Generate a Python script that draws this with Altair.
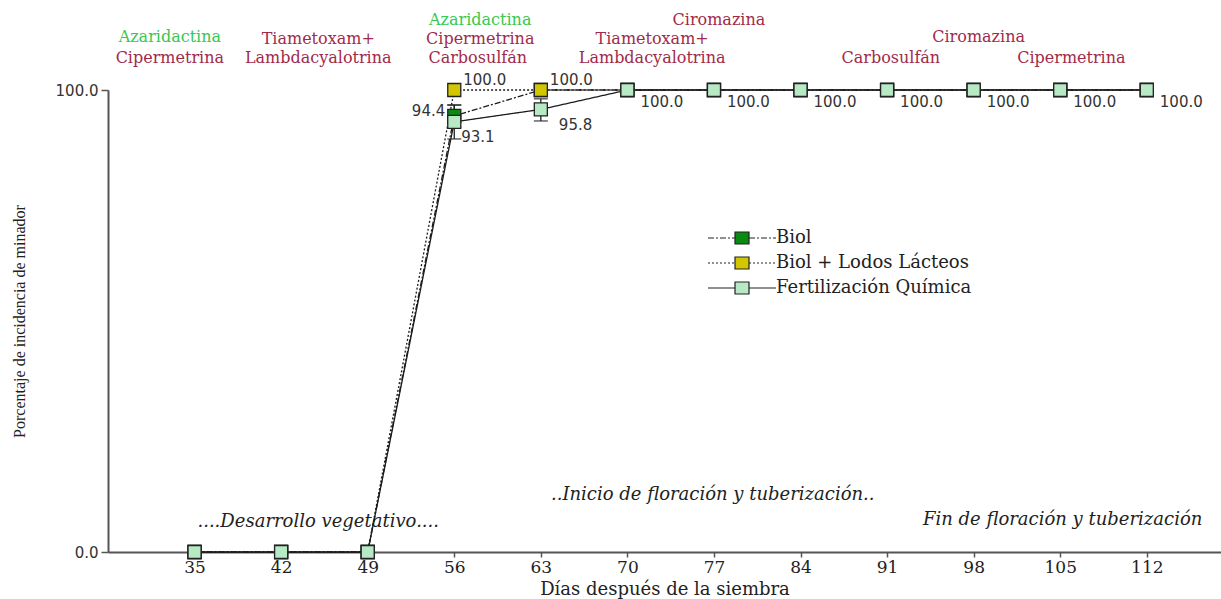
import altair as alt
import pandas as pd

# ---------------- data ----------------
days = [35, 42, 49, 56, 63, 70, 77, 84, 91, 98, 105, 112]
series_names = ["Biol", "Biol + Lodos Lácteos", "Fertilización Química"]
biol = [0, 0, 0, 94.4, 100, 100, 100, 100, 100, 100, 100, 100]
biol_lodos = [0, 0, 0, 100, 100, 100, 100, 100, 100, 100, 100, 100]
fert_quim = [0, 0, 0, 93.1, 95.8, 100, 100, 100, 100, 100, 100, 100]

# error bars
err_day = [56, 56, 63]
err_lo = [92.0, 89.4, 93.3]
err_hi = [96.7, 96.8, 98.1]

# product application annotations (day, level in % units, type)
ann_text = ["Azaridactina", "Cipermetrina", "Tiametoxam+", "Lambdacyalotrina",
            "Azaridactina", "Cipermetrina", "Carbosulfán",
            "Ciromazina", "Tiametoxam+", "Lambdacyalotrina",
            "Carbosulfán", "Ciromazina", "Cipermetrina"]
ann_day = [33.0, 33.0, 45.0, 45.0,
           58.1, 58.1, 57.9,
           77.4, 72.0, 72.0,
           91.3, 98.4, 105.9]
ann_level = [111.5, 106.9, 111.0, 106.9,
             115.2, 111.0, 106.9,
             115.2, 111.0, 106.9,
             106.9, 111.5, 106.9]
ann_type = ["botánico", "químico", "químico", "químico",
            "botánico", "químico", "químico",
            "químico", "químico", "químico",
            "químico", "químico", "químico"]

phase_text = ["....Desarrollo vegetativo....", "..Inicio de floración y tuberización.."]
phase_day = [45.0, 76.9]
phase_level = [6.5, 12.3]
phase_end_text = ["Fin de floración y tuberización"]
phase_end_day = [93.9]
phase_end_level = [6.9]

# ---------------- tables ----------------
rows = []
for name, vals in zip(series_names, [biol, biol_lodos, fert_quim]):
    for d, v in zip(days, vals):
        rows.append({"day": d, "value": v, "series": name, "label": f"{v:.1f}"})
df = pd.DataFrame(rows)
err_df = pd.DataFrame({"day": err_day, "lo": err_lo, "hi": err_hi})
ann_df = pd.DataFrame({"text": ann_text, "day": ann_day, "level": ann_level, "tipo": ann_type})
phase_df = pd.DataFrame({"text": phase_text, "day": phase_day, "level": phase_level})
phase_end_df = pd.DataFrame({"text": phase_end_text, "day": phase_end_day, "level": phase_end_level})

SERIF = "DejaVu Serif"
SANS = "DejaVu Sans"
LINE_C = "#1c1c1c"

dash_patterns = [[6, 2, 2, 2], [2, 2], [1, 0]]
fill_colors = ["#0b8a12", "#d2c600", "#b6e9c4"]

# legend symbols: a line with the series' dash pattern and a square in the middle
SYM_SIDE = 30.0          # sqrt(symbolSize)
UNIT = SYM_SIDE / 2.0    # pixels per path unit
HALF_W = 34.0            # half length of the legend line, px


def dashed(x0, x1, pattern):
    out = []
    x, i = x0, 0
    while x < x1 - 1e-9:
        ln = pattern[i % len(pattern)]
        xe = min(x + ln, x1)
        if i % 2 == 0:
            out.append(f"M{x / UNIT:.3f},0H{xe / UNIT:.3f}")
        x, i = xe, i + 1
    return "".join(out)


def legend_symbol(pattern):
    if pattern == [1, 0]:
        pattern = [100]
    w, h = 7 / UNIT, 6 / UNIT
    sq = f"M{-w:.3f},{-h:.3f}H{w:.3f}V{h:.3f}H{-w:.3f}Z"
    return dashed(-HALF_W, -7, pattern) + dashed(7, HALF_W, pattern) + sq


leg_paths = [legend_symbol(p) for p in dash_patterns]

xscale = alt.Scale(domain=[28, 118], nice=False, zero=False)
yscale = alt.Scale(domain=[0, 100], nice=False)

X = alt.X("day:Q", scale=xscale,
          axis=alt.Axis(values=days, title="Días después de la siembra", grid=False,
                        labelFont=SERIF, labelFontSize=17, labelColor="#222",
                        titleFont=SERIF, titleFontSize=18, titleFontWeight="normal",
                        titleColor="#222", domainColor="#555", domainWidth=2,
                        tickColor="#555", tickSize=5, tickWidth=1.5,
                        labelPadding=2, titlePadding=5, labelFlush=False))
Y = alt.Y("value:Q", scale=yscale,
          axis=alt.Axis(values=[0, 100], format=".1f", title="Porcentaje de incidencia de minador",
                        grid=False, labelFont=SANS, labelFontSize=15, labelColor="#333",
                        titleFont="Liberation Serif", titleFontSize=16, titleFontWeight="normal",
                        titleColor="#222", domainColor="#555", domainWidth=2,
                        tickColor="#555", tickSize=7, tickWidth=1.5, labelPadding=3,
                        titlePadding=28, labelFlush=False))

leg = alt.Legend(orient="none", legendX=599, legendY=132, title=None,
                 symbolSize=SYM_SIDE ** 2, symbolOpacity=1, symbolStrokeWidth=1.2,
                 symbolOffset=19, labelOffset=18,
                 labelFont=SERIF, labelFontSize=18,
                 labelColor="#222", labelLimit=400, rowPadding=0,
                 padding=0)

fill_scale = alt.Scale(domain=series_names, range=fill_colors)

# one line layer per series (each with its own dash style)
line_layers = []
for name, dash in zip(series_names, dash_patterns):
    line_layers.append(
        alt.Chart(df).transform_filter(alt.datum.series == name)
        .mark_line(color=LINE_C, strokeWidth=1.3, strokeDash=dash)
        .encode(x=X, y=Y)
    )

err_rule = alt.Chart(err_df).mark_rule(color="#222", strokeWidth=1.3).encode(
    x="day:Q", y="lo:Q", y2="hi:Q")
err_lo_t = alt.Chart(err_df).mark_tick(orient="horizontal", size=14, thickness=1.5, color="#222").encode(
    x="day:Q", y="lo:Q")
err_hi_t = alt.Chart(err_df).mark_tick(orient="horizontal", size=14, thickness=1.5, color="#222").encode(
    x="day:Q", y="hi:Q")

points = alt.Chart(df).mark_point(shape="square", filled=True, size=170, stroke="#222",
                                  strokeWidth=1.3, opacity=1).encode(
    x="day:Q", y="value:Q",
    fill=alt.Fill("series:N", title=None, scale=fill_scale, legend=leg),
)

# invisible layer that only carries the legend symbols (line + square)
legend_layer = alt.Chart(df).mark_point(filled=True, opacity=0, stroke="#222",
                                        strokeWidth=1.2).encode(
    x="day:Q", y="value:Q",
    fill=alt.Fill("series:N", title=None, scale=fill_scale, legend=leg),
    shape=alt.Shape("series:N", title=None,
                    scale=alt.Scale(domain=series_names, range=leg_paths), legend=leg),
)


def labels(filter_expr, dx, dy, align="left"):
    return alt.Chart(df).transform_filter(filter_expr).mark_text(
        font=SANS, fontSize=15, color="#333", align=align, baseline="middle", dx=dx, dy=dy
    ).encode(x="day:Q", y="value:Q", text="label:N")


lab_lodos = labels("datum.series == 'Biol + Lodos Lácteos' && (datum.day == 56 || datum.day == 63)", 9, -10)
lab_biol = labels("datum.series == 'Biol' && datum.day == 56", -9, -5, align="right")
lab_fq56 = labels("datum.series == 'Fertilización Química' && datum.day == 56", 7, 15)
lab_fq63 = labels("datum.series == 'Fertilización Química' && datum.day == 63", 18, 16)
lab_fq100 = labels("datum.series == 'Fertilización Química' && datum.day >= 70", 13, 12)

ann = alt.Chart(ann_df).mark_text(font=SERIF, fontSize=16, align="center", baseline="middle").encode(
    x="day:Q", y="level:Q", text="text:N",
    color=alt.Color("tipo:N", scale=alt.Scale(domain=["botánico", "químico"],
                                              range=["#35c94f", "#a12a4a"]), legend=None))

phase = alt.Chart(phase_df).mark_text(font=SERIF, fontSize=18, fontStyle="italic", color="#222",
                                      align="center", baseline="middle").encode(
    x="day:Q", y="level:Q", text="text:N")
phase_end = alt.Chart(phase_end_df).mark_text(font=SERIF, fontSize=18, fontStyle="italic", color="#222",
                                              align="left", baseline="middle").encode(
    x="day:Q", y="level:Q", text="text:N")

chart = alt.layer(
    *line_layers, err_rule, err_lo_t, err_hi_t, points, legend_layer,
    lab_lodos, lab_biol, lab_fq56, lab_fq63, lab_fq100,
    ann, phase, phase_end
).properties(
    width=1113, height=462,
    autosize=alt.AutoSizeParams(type="none"),
    padding={"left": 108, "top": 90, "right": 0, "bottom": 47},
    background="white",
).configure_view(stroke=None)

chart.save("out.html", embed_options={"renderer": "svg", "actions": False})
